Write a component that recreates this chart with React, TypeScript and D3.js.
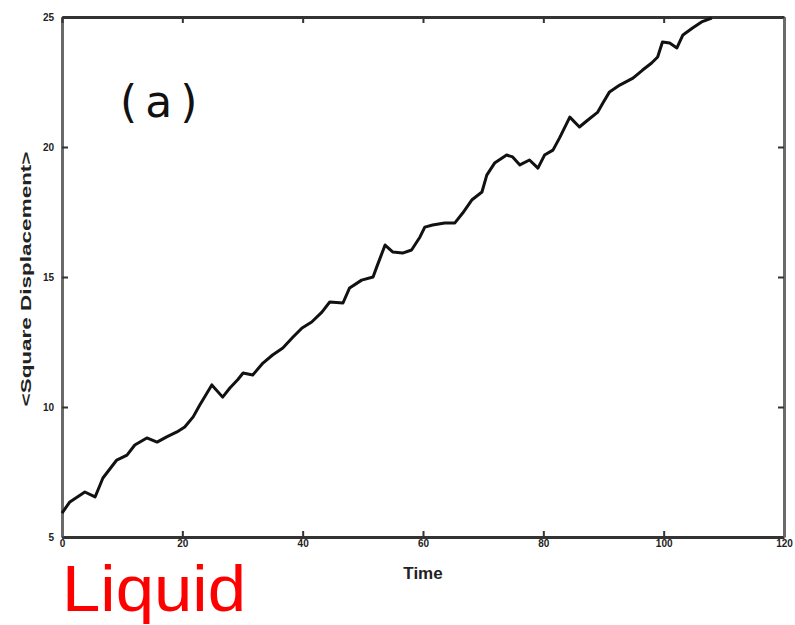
import React, { useRef, useEffect } from "react";
import * as d3 from "d3";

// time values
const times = [
  0, 1.3, 3.8, 5.5, 6.8, 9.1, 10.8, 12.1, 14.1, 15.8, 17.4, 19.1, 20.4, 21.8,
  22.9, 24.9, 26.7, 27.9, 29.2, 30.1, 31.7, 33.4, 35.0, 36.7, 38.4, 39.9,
  41.5, 43.2, 44.5, 46.7, 47.8, 49.8, 51.7, 52.3, 53.7, 55.0, 56.6, 58.1,
  59.5, 60.3, 61.6, 63.6, 65.3, 66.6, 68.1, 69.8, 70.6, 71.9, 73.9, 74.9,
  76.1, 77.7, 79.1, 80.2, 81.6, 82.7, 84.4, 86.0, 87.2, 89.0, 89.9, 91.0,
  92.7, 94.9, 96.5, 98.0, 99.0, 99.8, 101.0, 102.2, 103.2, 104.8, 106.3, 108.0,
];
// mean square displacement at each time
const displacement = [
  5.92, 6.35, 6.73, 6.54, 7.27, 7.96, 8.15, 8.54, 8.81, 8.65, 8.85, 9.04,
  9.23, 9.62, 10.08, 10.85, 10.38, 10.73, 11.05, 11.31, 11.23, 11.69, 12.0,
  12.27, 12.69, 13.04, 13.27, 13.65, 14.04, 14.0, 14.58, 14.88, 15.0, 15.38,
  16.23, 15.96, 15.92, 16.04, 16.54, 16.92, 17.0, 17.08, 17.08, 17.46,
  17.96, 18.27, 18.92, 19.38, 19.69, 19.62, 19.31, 19.5, 19.19, 19.69,
  19.88, 20.35, 21.15, 20.77, 21.0, 21.33, 21.69, 22.12, 22.38, 22.65,
  22.96, 23.23, 23.46, 24.04, 24.0, 23.81, 24.31, 24.58, 24.81, 24.96,
];
const xTicks = [0, 20, 40, 60, 80, 100, 120];
const yTicks = [5, 10, 15, 20, 25];

const App = () => {
  const svgRef = useRef<SVGSVGElement>(null);

  useEffect(() => {
    const svg = d3.select(svgRef.current);
    svg.selectAll("*").remove();
    const width = 795;
    const height = 625;
    const margin = { top: 17, right: 11, bottom: 88, left: 62 };

    const x = d3
      .scaleLinear()
      .domain([0, 120])
      .range([margin.left, width - margin.right]);
    const y = d3
      .scaleLinear()
      .domain([5, 25])
      .range([height - margin.bottom, margin.top]);

    svg.append("rect").attr("width", width).attr("height", height).attr("fill", "#fff");

    const tickLen = 6;
    const axisColor = "#333";

    // bottom axis with labels
    const bottom = svg
      .append("g")
      .attr("transform", `translate(0, ${y(5)})`)
      .call(d3.axisBottom(x).tickValues(xTicks).tickSizeInner(-tickLen).tickSizeOuter(0).tickPadding(3));
    // left axis with labels
    const left = svg
      .append("g")
      .attr("transform", `translate(${x(0)}, 0)`)
      .call(d3.axisLeft(y).tickValues(yTicks).tickSizeInner(-tickLen).tickSizeOuter(0).tickPadding(8));
    // mirrored top and right
    const top = svg
      .append("g")
      .attr("transform", `translate(0, ${y(25)})`)
      .call(d3.axisTop(x).tickValues(xTicks).tickSizeInner(-tickLen).tickSizeOuter(0).tickFormat(() => ""));
    const right = svg
      .append("g")
      .attr("transform", `translate(${x(120)}, 0)`)
      .call(d3.axisRight(y).tickValues(yTicks).tickSizeInner(-tickLen).tickSizeOuter(0).tickFormat(() => ""));

    [bottom, left, top, right].forEach((g) => {
      g.select(".domain").attr("stroke", axisColor).attr("stroke-width", 3);
      g.selectAll(".tick line").attr("stroke", axisColor).attr("stroke-width", 2);
      g.selectAll(".tick text")
        .attr("font-family", "Liberation Sans, Arial, sans-serif")
        .attr("font-size", 10)
        .attr("font-weight", "bold")
        .attr("fill", "#222");
    });
    left.select(".domain").attr("stroke", "#6a6a6a");
    right.select(".domain").attr("stroke", "#6a6a6a");

    // the curve
    const pts = times.map((t, i) => [t, displacement[i]] as [number, number]);
    const line = d3
      .line<[number, number]>()
      .x((d) => x(d[0]))
      .y((d) => y(d[1]));
    svg
      .append("path")
      .datum(pts)
      .attr("d", line)
      .attr("fill", "none")
      .attr("stroke", "#111")
      .attr("stroke-width", 3)
      .attr("stroke-linejoin", "round");

    // axis titles
    svg
      .append("text")
      .attr("x", x(60))
      .attr("y", 579)
      .attr("text-anchor", "middle")
      .attr("font-family", "Liberation Sans, Arial, sans-serif")
      .attr("font-weight", "bold")
      .attr("font-size", 17)
      .attr("fill", "#222")
      .text("Time");

    svg
      .append("text")
      .attr("transform", `translate(31, ${y(15) + 2}) rotate(-90)`)
      .attr("text-anchor", "middle")
      .attr("font-family", "Liberation Sans, Arial, sans-serif")
      .attr("font-weight", "bold")
      .attr("font-size", 15)
      .attr("textLength", 255)
      .attr("lengthAdjust", "spacingAndGlyphs")
      .attr("fill", "#222")
      .text("<Square Displacement>");

    // panel label
    svg
      .append("text")
      .attr("x", 120)
      .attr("y", 117)
      .attr("font-family", "DejaVu Sans, sans-serif")
      .attr("font-size", 44)
      .attr("letter-spacing", 8)
      .attr("fill", "#111")
      .text("(a)");

    // red caption
    svg
      .append("text")
      .attr("x", 62)
      .attr("y", 611)
      .attr("font-family", "Liberation Sans, Arial, sans-serif")
      .attr("font-size", 64)
      .attr("textLength", 184)
      .attr("lengthAdjust", "spacingAndGlyphs")
      .attr("fill", "#ff0000")
      .text("Liquid");
  }, []);

  return (
    <svg
      ref={svgRef}
      width={795}
      height={625}
      style={{ position: "absolute", left: 0, top: 0 }}
    ></svg>
  );
};

export default App;
